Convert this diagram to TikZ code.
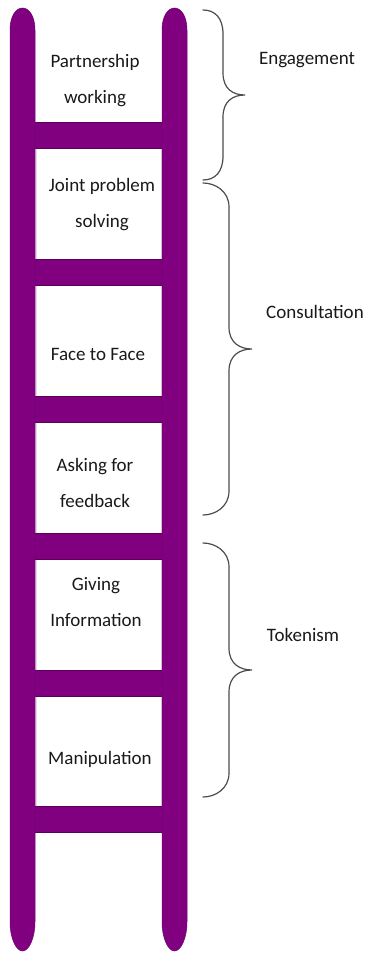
\documentclass[tikz,border=0pt]{standalone}
\usepackage{fontspec}
\setmainfont{Carlito}
\usepackage{tikz}
\definecolor{ladder}{RGB}{128,0,128}

% curly bracket: top, bottom, stem x, tip x
\newcommand{\curly}[4]{%
  \pgfmathsetmacro{\bmid}{(#1+#2)/2}
  \draw[bracket] (203,#1) .. controls (215,#1) and (#3,#1+8) .. (#3,#1+24)
    -- (#3,\bmid-22) .. controls (#3,\bmid-6) and (#4-12,\bmid) .. (#4,\bmid)
    .. controls (#4-12,\bmid) and (#3,\bmid+6) .. (#3,\bmid+22)
    -- (#3,#2-24) .. controls (#3,#2-8) and (215,#2) .. (203,#2);}

\begin{document}
\begin{tikzpicture}[x=1pt,y=-1pt,
    rail/.style={fill=ladder,draw=ladder!85!black,line width=0.5pt},
    rung/.style={fill=ladder,draw=ladder!70!black,line width=0.6pt},
    panel/.style={draw=black!12,line width=1pt},
    label/.style={font=\fontsize{19}{36}\selectfont,align=center,text=black!90},
    bracket/.style={draw=black!70,line width=1.2pt,line cap=round}]
  \useasboundingbox (0,0) rectangle (365,953);

            % panels between the rungs
            \foreach \y in {148,285,422,559,696}
                \path[panel] (36,\y) rectangle (161,\y+111);

            % rungs
            \foreach \y in {122,259,396,533,670,806}
                \path[rung] (30,\y) rectangle (167,\y+26);

            % rails
            \foreach \x in {10,162}{
                \path[rail] (\x,30) .. controls (\x,16) and (\x+6,8) .. (\x+12.5,8)
                    .. controls (\x+19,8) and (\x+25,16) .. (\x+25,30)
                    -- (\x+25,922) .. controls (\x+25,938) and (\x+19,951) .. (\x+12.5,951)
                    .. controls (\x+6,951) and (\x,938) .. (\x,922) -- cycle;
            }

            % steps
            \node[label] (partner) at (95,81) {Partnership\\working};
            \node[label] (joint) at (102,205) {Joint problem\\solving};
            \node[label] (face) at (98,354) {Face to Face};
            \node[label] (asking) at (95,483) {Asking for\\feedback};
            \node[label] (giving) at (96,602) {Giving\\Information};
            \node[label] (manip) at (100,759) {Manipulation};

            % brackets
            \curly{10}{180}{223}{245}
            \curly{183}{515}{229}{252}
            \curly{543}{797}{229}{252}

            \node[label] (engage) at (307,60) {Engagement};
            \node[label] (consult) at (315,312) {Consultation};
            \node[label] (token) at (303,635) {Tokenism};
        \end{tikzpicture}
\end{document}
